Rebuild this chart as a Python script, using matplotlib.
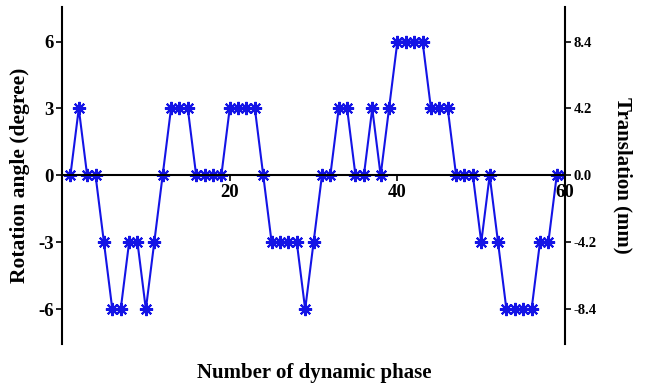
import matplotlib.pyplot as plt
import numpy as np

plt.rcParams['font.family'] = ['Liberation Serif', 'DejaVu Serif']
plt.rcParams['font.weight'] = 'bold'

# rotation angle per dynamic phase (degree)
phases = list(range(1, 61))
rotation = [0, 3, 0, 0, -3, -6, -6, -3, -3, -6,
            -3, 0, 3, 3, 3, 0, 0, 0, 0, 3,
            3, 3, 3, 0, -3, -3, -3, -3, -6, -3,
            0, 0, 3, 3, 0, 0, 3, 0, 3, 6,
            6, 6, 6, 3, 3, 3, 0, 0, 0, -3,
            0, -3, -6, -6, -6, -6, -3, -3, 0, 0]

left_ticks = [-6, -3, 0, 3, 6]
right_ticks = [-8.4, -4.2, 0.0, 4.2, 8.4]
x_ticks = [20, 40, 60]

fig = plt.figure(figsize=(6.5, 3.86), dpi=100)
ax = fig.add_axes([0.0954, 0.109, 0.774, 0.873])

ax.plot(phases, rotation, color='#1414e6', lw=1.5,
        marker=(8, 2, 0), markersize=9.5, markeredgewidth=1.5)

ax.set_xlim(0, 60)
ax.set_ylim(-7.55, 7.55)

ax.spines['top'].set_visible(False)
ax.spines['bottom'].set_position(('data', 0))
for s in ['left', 'right', 'bottom']:
    ax.spines[s].set_linewidth(1.5)
ax.spines['right'].set_visible(False)

ax.set_xticks(x_ticks)
ax.set_xticklabels([str(t) for t in x_ticks], fontsize=13.5, fontweight='bold')
ax.set_yticks(left_ticks)
ax.set_yticklabels([str(t) for t in left_ticks], fontsize=13.5, fontweight='bold')
ax.tick_params(axis='both', direction='out', length=4, width=1.2)
ax.tick_params(axis='x', pad=2)
ax.tick_params(axis='y', pad=2)

ax.set_ylabel('Rotation angle (degree)', fontsize=15.5, fontweight='bold', labelpad=6)
fig.text(0.483, 0.034, 'Number of dynamic phase', fontsize=15,
         fontweight='bold', ha='center', va='center')

ax2 = ax.twinx()
ax2.set_ylim(-7.55 * 1.4, 7.55 * 1.4)
ax2.set_yticks(right_ticks)
ax2.set_yticklabels(['%.1f' % t for t in right_ticks], fontsize=10.5, fontweight='bold')
ax2.tick_params(axis='y', direction='out', length=4, width=1.2, pad=2)
for s in ['top', 'left', 'bottom']:
    ax2.spines[s].set_visible(False)
ax2.spines['right'].set_linewidth(1.5)
ax2.set_ylabel('Translation (mm)', fontsize=15, fontweight='bold',
               rotation=270, labelpad=26)

fig.savefig('out.png', dpi=100)
